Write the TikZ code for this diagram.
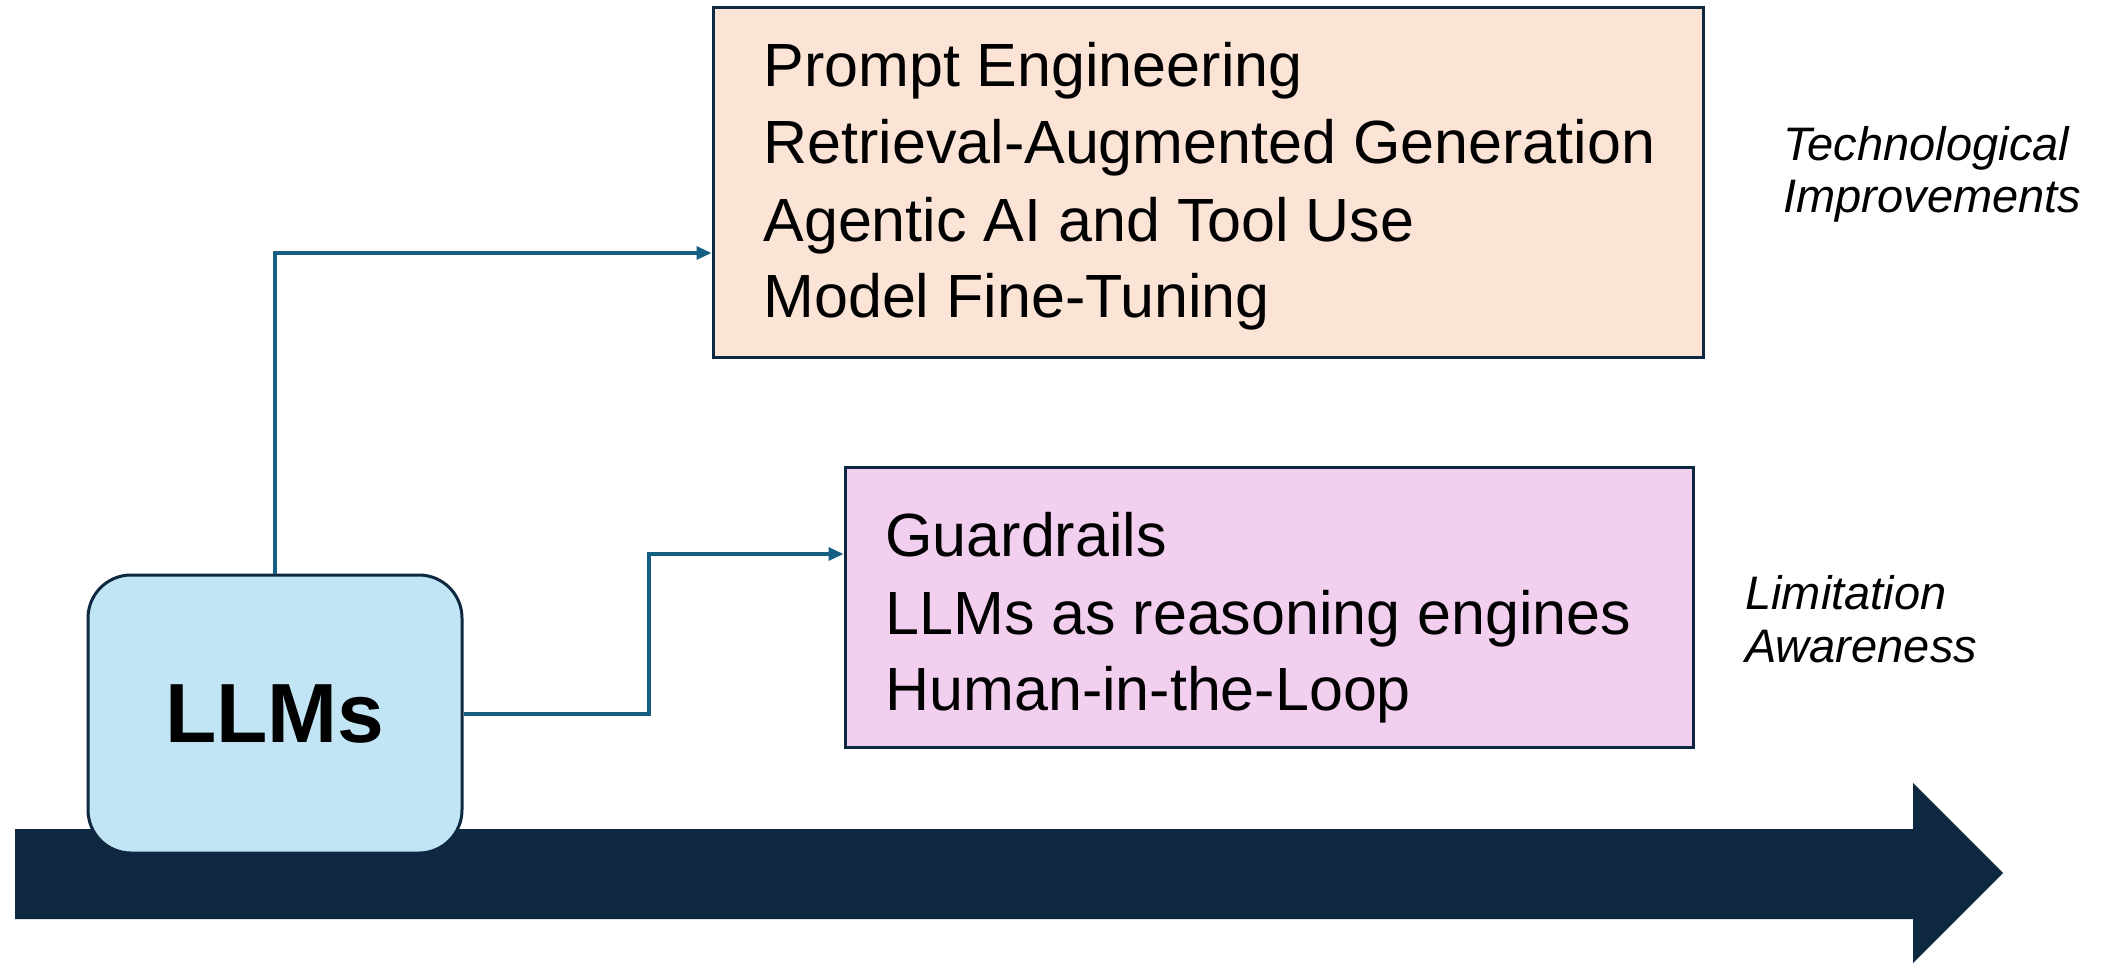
\documentclass[tikz,border=0pt]{standalone}
\usepackage{fontspec}
\setmainfont{Liberation Sans}
\usetikzlibrary{arrows.meta,calc}
\definecolor{peach}{HTML}{FBE3D6}
\definecolor{lilac}{HTML}{F2CFEE}
\definecolor{skyfill}{HTML}{C1E5F5}
\definecolor{navy}{HTML}{0E2841}
\definecolor{connblue}{HTML}{156082}
\tikzset{
  panel/.style={draw=navy, line width=1.5pt, inner sep=0pt},
  itemtext/.style={anchor=base west, inner sep=0pt, font=\fontsize{30.5}{36}\selectfont},
  sidetext/.style={anchor=base west, inner sep=0pt, font=\fontsize{23.5}{28}\selectfont\itshape},
  conn/.style={draw=connblue, line width=1.6pt, -{Triangle[length=7.5pt,width=6.5pt]}},
}
\begin{document}
\begin{tikzpicture}[x=0.5pt,y=-0.5pt]
\useasboundingbox (0,0) rectangle (2103,964);
% timeline arrow
\fill[navy] (15,829) -- (1913,829) -- (1913,783) -- (2003,873) -- (1913,963) -- (1913,919) -- (15,919) -- cycle;
% boxes
\node[panel, fill=peach, minimum width=495pt, minimum height=175pt] (tbox) at (1208,182) {};
\node[panel, fill=lilac, minimum width=424pt, minimum height=140pt] (bbox) at (1269,607) {};
\node[panel, fill=skyfill, rounded corners=21.5pt, minimum width=187pt, minimum height=139pt,
      font=\fontsize{42}{48}\selectfont\bfseries] (llm) at (275,714) {LLMs};
% top box text
\node[itemtext] (t1) at (763,86) {Prompt Engineering};
\node[itemtext] (t2) at (763,163) {Retrieval-Augmented Generation};
\node[itemtext] (t3) at (763,241) {Agentic AI and Tool Use};
\node[itemtext] (t4) at (763,317) {Model Fine-Tuning};
% bottom box text
\node[itemtext] (b1) at (885,556) {Guardrails};
\node[itemtext] (b2) at (885,634) {LLMs as reasoning engines};
\node[itemtext] (b3) at (885,710) {Human-in-the-Loop};
% side labels
\node[sidetext] (s1) at (1783,160) {Technological};
\node[sidetext] (s2) at (1783,212) {Improvements};
\node[sidetext] (s3) at (1745,609) {Limitation};
\node[sidetext] (s4) at (1745,662) {Awareness};
% connectors
\coordinate (tin) at ($(tbox.west)+(0,71)$);
\coordinate (bin) at ($(bbox.west)+(0,-53)$);
\coordinate (bend) at (649,714);
\draw[conn] (llm.north) |- (tin);
\draw[conn] (llm.east) -- (bend) |- (bin);
\end{tikzpicture}
\end{document}
